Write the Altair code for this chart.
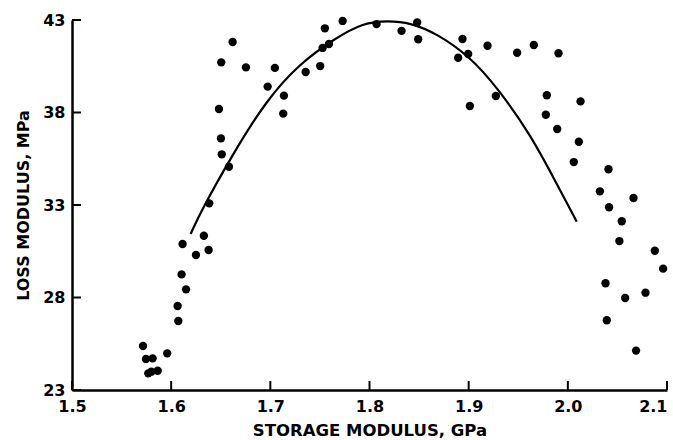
import altair as alt
import pandas as pd

# Scatter data (storage modulus GPa, loss modulus MPa)
storage = [1.5716, 1.5746, 1.5813, 1.5769, 1.5800, 1.5864, 1.5960, 1.6065, 1.6072, 1.6105,
           1.6150, 1.6115, 1.6250, 1.6330, 1.6378, 1.6384, 1.6583, 1.6510, 1.6502, 1.6482,
           1.6505, 1.6620, 1.6754, 1.6973, 1.7046, 1.7137, 1.7130, 1.7356, 1.7503, 1.7527,
           1.7591, 1.7550, 1.7729, 1.8071, 1.8323, 1.8481, 1.8491, 1.8938, 1.8894, 1.8995,
           1.9190, 1.9489, 1.9657, 1.9906, 1.9012, 1.9274, 1.9788, 2.0128, 1.9778, 1.9893,
           2.0111, 2.0060, 2.0410, 2.0323, 2.0416, 2.0662, 2.0544, 2.0520, 2.0877, 2.0961,
           2.0380, 2.0783, 2.0578, 2.0393, 2.0688]
loss = [25.38, 24.68, 24.71, 23.90, 23.99, 24.04, 24.98, 27.54, 26.73, 29.25,
        28.44, 30.89, 30.30, 31.34, 30.57, 33.09, 35.07, 35.74, 36.60, 38.19,
        40.71, 41.81, 40.44, 39.40, 40.41, 38.91, 37.94, 40.19, 40.51, 41.49,
        41.70, 42.55, 42.95, 42.78, 42.41, 42.87, 41.96, 41.97, 40.96, 41.16,
        41.61, 41.23, 41.65, 41.20, 38.35, 38.89, 38.93, 38.60, 37.88, 37.11,
        36.42, 35.32, 34.93, 33.74, 32.88, 33.38, 32.12, 31.05, 30.53, 29.56,
        28.77, 28.26, 27.97, 26.77, 25.13]

# Fitted curve
curve_x = [1.6196, 1.6307, 1.6626, 1.6962, 1.7298, 1.7650, 1.7937, 1.8189,
           1.8407, 1.8676, 1.9012, 1.9281, 1.9617, 1.9886, 2.0090]
curve_y = [31.43, 32.73, 35.79, 38.68, 40.66, 42.00, 42.86, 42.96,
           42.86, 42.28, 41.02, 39.40, 36.87, 34.17, 32.10]

x_ticks = [1.5, 1.6, 1.7, 1.8, 1.9, 2.0, 2.1]
y_ticks = [23, 28, 33, 38, 43]

pts = pd.DataFrame({"storage": storage, "loss": loss})
crv = pd.DataFrame({"storage": curve_x, "loss": curve_y, "order": list(range(len(curve_x)))})
xt = pd.DataFrame({"v": x_ticks})
yt = pd.DataFrame({"v": y_ticks})

FONT = "DejaVu Sans"
xscale = alt.Scale(domain=[1.5, 2.1], nice=False, zero=False)
yscale = alt.Scale(domain=[23, 43], nice=False, zero=False)

xaxis = alt.Axis(values=x_ticks, ticks=False, grid=False, domainColor="black", domainWidth=2.5,
                 labelFont=FONT, labelFontSize=16, labelFontWeight="bold", labelColor="black",
                 labelPadding=8, labelExpr="datum.value == 2 ? '2.0' : format(datum.value, '.1f')",
                 labelAlign={"condition": {"test": "datum.value >= 2.1", "value": "right"}, "value": "center"},
                 title="STORAGE MODULUS, GPa", titleFont=FONT, titleFontSize=16.5, titleFontWeight="bold",
                 titleColor="black", titlePadding=8)
yaxis = alt.Axis(values=y_ticks, ticks=False, grid=False, domainColor="black", domainWidth=2.5,
                 labelFont=FONT, labelFontSize=16, labelFontWeight="bold", labelColor="black",
                 labelPadding=7,
                 title="LOSS MODULUS, MPa", titleFont=FONT, titleFontSize=16, titleFontWeight="bold",
                 titleColor="black", titlePadding=11)

points = alt.Chart(pts).mark_circle(size=70, color="black", opacity=1).encode(
    x=alt.X("storage:Q", scale=xscale, axis=xaxis),
    y=alt.Y("loss:Q", scale=yscale, axis=yaxis),
)

line = alt.Chart(crv).mark_line(color="black", strokeWidth=2.2, interpolate="basis").encode(
    x=alt.X("storage:Q", scale=xscale),
    y=alt.Y("loss:Q", scale=yscale),
    order="order:Q",
)

xtick_marks = alt.Chart(xt).mark_rule(color="black", strokeWidth=2).encode(
    x=alt.X("v:Q", scale=xscale),
    y=alt.value(370),
    y2=alt.value(361),
)
ytick_marks = alt.Chart(yt).mark_rule(color="black", strokeWidth=2).encode(
    y=alt.Y("v:Q", scale=yscale),
    x=alt.value(0),
    x2=alt.value(9),
)

chart = alt.layer(points, line, xtick_marks, ytick_marks).properties(
    width=595, height=370,
    autosize=alt.AutoSizeParams(type="none"),
    padding={"left": 72, "top": 20, "right": 6, "bottom": 50},
    background="white",
).configure_view(strokeWidth=0)

chart.save("out.html", embed_options={"renderer": "svg", "actions": False})
